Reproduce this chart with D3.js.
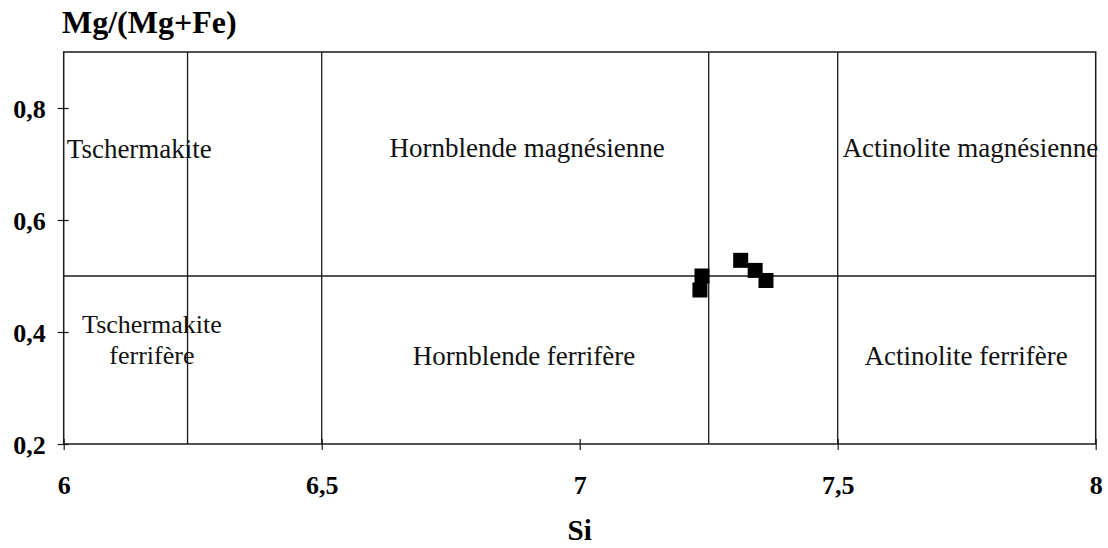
<!DOCTYPE html>
<html>
<head>
<meta charset="utf-8">
<script src="https://cdn.jsdelivr.net/npm/d3@7/dist/d3.min.js"></script>
<style>
  html, body { margin: 0; padding: 0; background: #fff; }
  svg { display: block; }
</style>
</head>
<body>
<svg id="chart" width="1108" height="548"></svg>
<script>
// Amphibole analyses: Si (apfu) vs Mg/(Mg+Fe)
const siValues = [7.237, 7.233, 7.312, 7.340, 7.361];
const mgValues = [0.500, 0.475, 0.528, 0.510, 0.492];

// Axis ticks
const xTicks = [6, 6.5, 7, 7.5, 8];
const yTicks = [0.2, 0.4, 0.6, 0.8];

// Field boundaries of the classification diagram
const siBounds = [6.24, 6.5, 7.25, 7.5];
const mgBounds = [0.5];

// Field names
const fieldNames = [
  ["Tschermakite"],
  ["Hornblende magnésienne"],
  ["Actinolite magnésienne"],
  ["Tschermakite", "ferrifère"],
  ["Hornblende ferrifère"],
  ["Actinolite ferrifère"]
];

const W = 1108, H = 548;
const margin = { top: 52, right: 12.3, bottom: 104, left: 63.7 };

const svg = d3.select("#chart");
const x = d3.scaleLinear().domain([6, 8]).range([margin.left, W - margin.right]);
const y = d3.scaleLinear().domain([0.2, 0.9]).range([H - margin.bottom, margin.top]);

const fmt = d => String(d).replace(".", ",");
const ink = "#1a1a1a";
const serif = "'Liberation Serif', 'Times New Roman', serif";

// Field label placement (data coordinates + anchor), one per field
const fieldLayout = [
  { x: 6.006, y: [0.711], anchor: "start" },
  { x: 6.898, y: [0.7125], anchor: "middle" },
  { x: 7.757, y: [0.7125], anchor: "middle" },
  { x: 6.171, y: [0.398, 0.342], anchor: "middle" },
  { x: 6.892, y: [0.341], anchor: "middle" },
  { x: 7.749, y: [0.341], anchor: "middle" }
];

const g = svg.append("g");

// Boundary lines
g.selectAll("line.vb").data(siBounds).enter().append("line")
  .attr("x1", d => x(d)).attr("x2", d => x(d))
  .attr("y1", y(0.9)).attr("y2", y(0.2))
  .attr("stroke", ink).attr("stroke-width", 1.3);

g.selectAll("line.hb").data(mgBounds).enter().append("line")
  .attr("x1", x(6)).attr("x2", x(8))
  .attr("y1", d => y(d)).attr("y2", d => y(d))
  .attr("stroke", ink).attr("stroke-width", 1.3);

// Frame
g.append("rect")
  .attr("x", x(6)).attr("y", y(0.9))
  .attr("width", x(8) - x(6)).attr("height", y(0.2) - y(0.9))
  .attr("fill", "none").attr("stroke", ink).attr("stroke-width", 1.5);

// Axes with crossing tick marks
const xAxis = d3.axisBottom(x).tickValues(xTicks).tickSize(5).tickFormat(fmt);
const yAxis = d3.axisLeft(y).tickValues(yTicks).tickSize(5).tickFormat(fmt);

const gx = svg.append("g").attr("transform", `translate(0,${y(0.2)})`).call(xAxis);
gx.select(".domain").remove();
gx.selectAll(".tick line").attr("y1", -5).attr("y2", 6).attr("stroke", ink).attr("stroke-width", 1.2);
gx.selectAll(".tick text")
  .attr("y", 0).attr("dy", null)
  .attr("transform", "translate(0,50)")
  .style("font-family", serif)
  .style("font-weight", "bold").style("font-size", "26px").attr("fill", "#000");

const gy = svg.append("g").attr("transform", `translate(${x(6)},0)`).call(yAxis);
gy.select(".domain").remove();
gy.selectAll(".tick line").attr("x1", -6).attr("x2", 5).attr("stroke", ink).attr("stroke-width", 1.2);
gy.selectAll(".tick text")
  .attr("x", -18).attr("dy", "0.36em")
  .style("font-family", serif)
  .style("font-weight", "bold").style("font-size", "26px").attr("fill", "#000");

// Axis titles
svg.append("text")
  .attr("x", 62).attr("y", 33)
  .style("font-family", serif)
  .style("font-weight", "bold").style("font-size", "32px")
  .text("Mg/(Mg+Fe)");

svg.append("text")
  .attr("x", x(7)).attr("y", 540).attr("text-anchor", "middle")
  .style("font-family", serif)
  .style("font-weight", "bold").style("font-size", "29px")
  .text("Si");

// Field labels
fieldNames.forEach((lines, i) => {
  const L = fieldLayout[i];
  lines.forEach((t, j) => {
    svg.append("text")
      .attr("x", x(L.x)).attr("y", y(L.y[j]))
      .attr("text-anchor", L.anchor)
      .style("font-family", serif)
      .style("font-size", lines.length > 1 ? "26px" : "27px").attr("fill", "#111")
      .text(t);
  });
});

// Analyses as filled squares
const s = 15;
svg.selectAll("rect.pt").data(siValues.map((v, i) => [v, mgValues[i]])).enter()
  .append("rect")
  .attr("x", d => x(d[0]) - s / 2).attr("y", d => y(d[1]) - s / 2)
  .attr("width", s).attr("height", s)
  .attr("fill", "#000");
</script>
</body>
</html>
